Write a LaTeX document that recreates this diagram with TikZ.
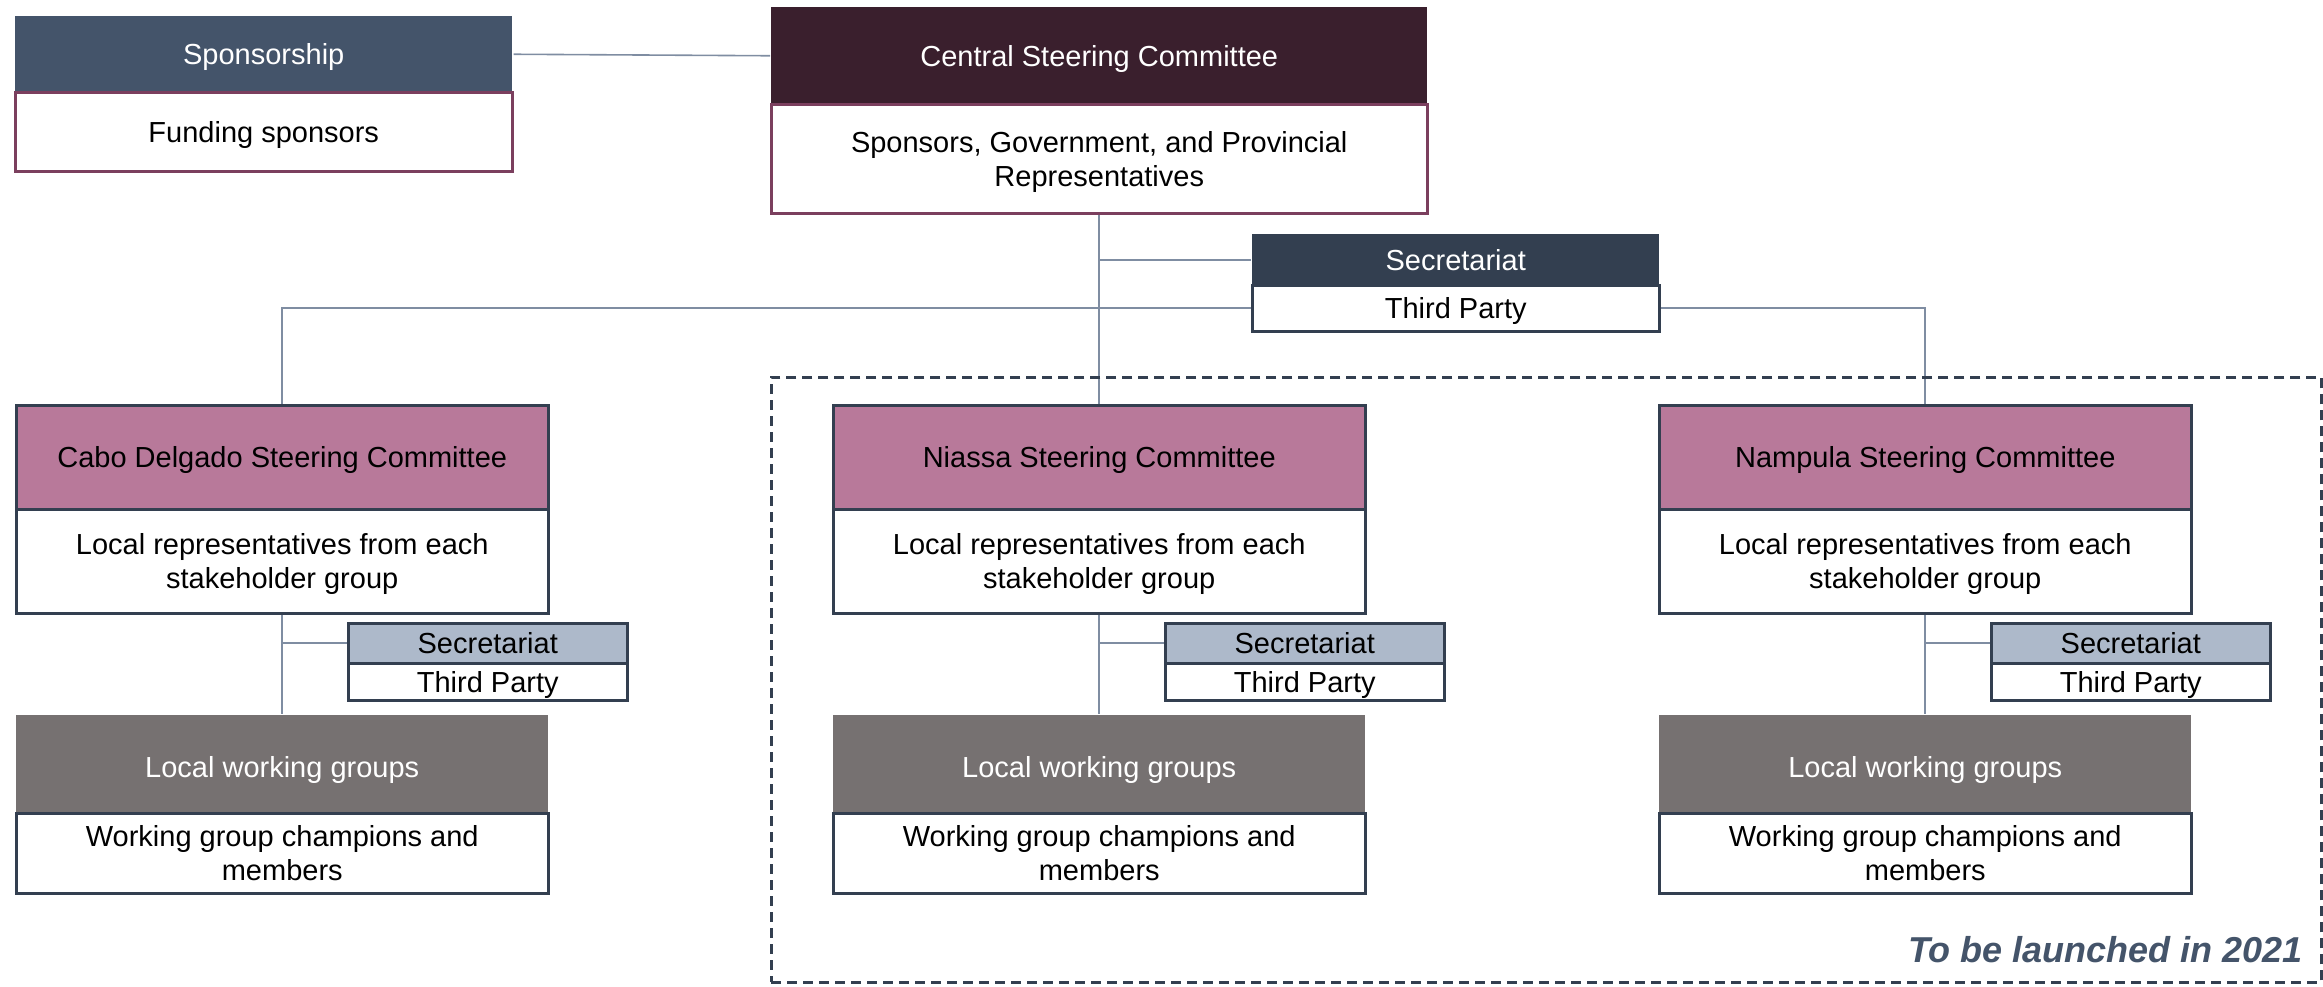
\documentclass[tikz,border=0pt]{standalone}
\usepackage{fontspec}
\setmainfont{Liberation Sans}
\usetikzlibrary{positioning}
\pgfdeclarelayer{background}
\pgfsetlayers{background,main}
\definecolor{sponsC}{HTML}{44546A}
\definecolor{centralC}{HTML}{3A1F2D}
\definecolor{maroonL}{HTML}{7B3F5E}
\definecolor{darkS}{HTML}{333F50}
\definecolor{mauveC}{HTML}{B8799A}
\definecolor{lightS}{HTML}{ADB9CA}
\definecolor{greyC}{HTML}{767171}
\definecolor{connC}{HTML}{7F8DA2}
\newcommand\fsz{\fontsize{29}{34}\selectfont}
\tikzset{
  box/.style={anchor=north west, inner sep=0pt, align=center, font=\fsz, line width=2.5pt, text depth=0pt},
  hdrdark/.style={box, fill=#1, text=white},
  bodyline/.style={box, fill=white, draw=#1},
  conn/.style={draw=connC, line width=1.6pt},
}
\begin{document}
\begin{tikzpicture}[x=1pt,y=-1pt]
\useasboundingbox (0,0) rectangle (2323,986);
% Sponsorship
\node[hdrdark=sponsC, minimum width=497pt, minimum height=76pt] (sh) at (14,15) {Sponsorship};
\node[bodyline=maroonL, minimum width=497pt, minimum height=79pt] (sb) at (14,91) {Funding sponsors};
% Central
\node[hdrdark=centralC, minimum width=656pt, minimum height=97pt] (ch) at (770,6) {Central Steering Committee};
\node[bodyline=maroonL, minimum width=656pt, minimum height=109pt] (cb) at (770,103) {Sponsors, Government, and Provincial\\Representatives};
% Central secretariat
\node[hdrdark=darkS, minimum width=407pt, minimum height=51pt] (csh) at (1251,233) {Secretariat};
\node[bodyline=darkS, minimum width=407pt, minimum height=46pt] (csb) at (1251,284) {Third Party};
% Dashed frame
\node[draw=darkS, line width=2.5pt, dash pattern=on 10pt off 6pt, anchor=north west, inner sep=0pt, minimum width=1550pt, minimum height=605pt] (frame) at (770,376) {};
\node[anchor=base east, font=\fontsize{36}{40}\selectfont\bfseries\itshape, text=sponsC, inner sep=0pt] (launch) at (2303,962) {To be launched in 2021};
% Provincial committees
\foreach \cx/\nm/\title in {281/cd/Cabo Delgado Steering Committee, 1098/ni/Niassa Steering Committee, 1924/na/Nampula Steering Committee}{
  \node[box, fill=mauveC, draw=darkS, minimum width=532pt, minimum height=104pt] (\nm h) at (\cx-266,404) {\title};
  \node[bodyline=darkS, minimum width=532pt, minimum height=104pt] (\nm b) at (\cx-266,508) {Local representatives from each\\stakeholder group};
  \node[box, fill=lightS, draw=darkS, minimum width=279pt, minimum height=40pt] (\nm sh) at (\cx+66,622) {Secretariat};
  \node[bodyline=darkS, minimum width=279pt, minimum height=37pt] (\nm sb) at (\cx+66,662) {Third Party};
  \node[hdrdark=greyC, minimum width=532pt, minimum height=98pt, text height=26pt] (\nm wh) at (\cx-266,714) {Local working groups};
  \node[bodyline=darkS, minimum width=532pt, minimum height=80pt] (\nm wb) at (\cx-266,812) {Working group champions and\\members};
  \begin{pgfonlayer}{background}
    \draw[conn] (\nm b.south) -- (\nm wh.north);
    \draw[conn] (\nm b.south) |- (\nm sh.west);
  \end{pgfonlayer}
}
\coordinate (bus) at (1098,308);
\begin{pgfonlayer}{background}
  \draw[conn] (sh.east) -- (ch.west);
  \draw[conn] (cb.south) -- (nih.north);
  \draw[conn] (cb.south) |- (csh.west);
  \draw[conn] (cdh.north) |- (bus) -| (nah.north);
\end{pgfonlayer}
\end{tikzpicture}
\end{document}
